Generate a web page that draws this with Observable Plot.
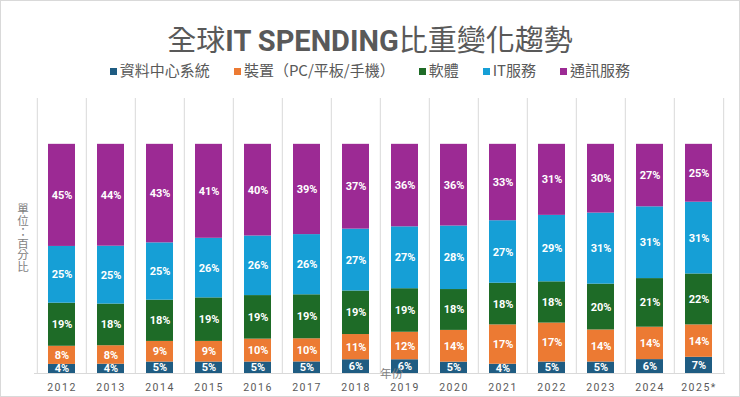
<!DOCTYPE html>
<html>
<head>
<meta charset="utf-8">
<script src="https://cdn.jsdelivr.net/npm/d3@7"></script>
<script src="https://cdn.jsdelivr.net/npm/@observablehq/plot@0.6"></script>
<style>
  html, body { margin: 0; padding: 0; background: #fff; }
  #wrap { position: relative; width: 740px; height: 397px; box-sizing: border-box; border: 1px solid #d9d9d9; background: #fff; overflow: hidden; font-family: "Noto Sans CJK TC", sans-serif; }
  #title { position: absolute; left: 0; right: 0; top: 17px; text-align: center; font-size: 29px; line-height: 40px; color: #595959; white-space: nowrap; }
  #title b { font-family: Roboto, "Liberation Sans", sans-serif; font-weight: 700; }
  #legend { position: absolute; left: 0; right: 0; top: 59px; display: flex; justify-content: center; gap: 24px; font-size: 15px; line-height: 20px; color: #595959; white-space: nowrap; }
  #legend .sw { display: inline-block; width: 7px; height: 7px; margin-right: 3px; vertical-align: 1px; }
  #ylab { position: absolute; left: 16px; top: 202px; writing-mode: vertical-rl; text-orientation: upright; font-size: 11.5px; line-height: 12px; color: #7f7f7f; }
  #xlab { position: absolute; left: 379px; top: 366px; font-size: 11.5px; line-height: 12px; color: #808080; }
  #chart { position: absolute; left: 0; top: 87px; }
  #chart g[aria-label="x-axis tick label"] text { letter-spacing: 1.5px; }
</style>
</head>
<body>
<div id="wrap">
  <div id="title">全球<b>IT SPENDING</b>比重變化趨勢</div>
  <div id="legend"></div>
  <div id="chart"></div>
  <div id="ylab">單位：百分比</div>
  <div id="xlab">年份</div>
</div>
<script>
const years = ["2012","2013","2014","2015","2016","2017","2018","2019","2020","2021","2022","2023","2024","2025*"];
const series = ["資料中心系統","裝置（PC/平板/手機）","軟體","IT服務","通訊服務"];
const colors = ["#1f5c82","#ec7a33","#1e6b27","#169fd6","#9c2a94"];

const dataCenter = [4,4,5,5,5,5,6,6,5,4,5,5,6,7];
const devices    = [8,8,9,9,10,10,11,12,14,17,17,14,14,14];
const software   = [19,18,18,19,19,19,19,19,18,18,18,20,21,22];
const itServices = [25,25,25,26,26,26,27,27,28,27,29,31,31,31];
const commServices = [45,44,43,41,40,39,37,36,36,33,31,30,27,25];

const values = [dataCenter, devices, software, itServices, commServices];
const data = [];
series.forEach((s, si) => years.forEach((y, i) => data.push({year: y, series: s, value: values[si][i]})));

// legend
const legend = document.getElementById("legend");
series.forEach((s, i) => {
  const item = document.createElement("span");
  const sw = document.createElement("span");
  sw.className = "sw";
  sw.style.background = colors[i];
  item.appendChild(sw);
  item.appendChild(document.createTextNode(s));
  legend.appendChild(item);
});

const W = 738, H = 308, ML = 33, MR = 14, MT = 10, MB = 23;
const step = (W - ML - MR) / years.length;

const chart = Plot.plot({
  width: W, height: H,
  marginLeft: ML, marginRight: MR, marginTop: MT, marginBottom: MB,
  style: {fontFamily: "Roboto, sans-serif", background: "transparent"},
  x: {domain: years, paddingInner: 0.45, paddingOuter: 0.225, label: null},
  y: {domain: [0, 1.2], axis: null},
  color: {domain: series, range: colors},
  marks: [
    Plot.ruleX(years, {x: d => d, dx: -step / 2, stroke: "#d9d9d9", strokeWidth: 1}),
    Plot.ruleX([years[years.length - 1]], {x: d => d, dx: step / 2, stroke: "#d9d9d9", strokeWidth: 1}),
    Plot.barY(data, {x: "year", y: "value", fill: "series", offset: "normalize"}),
    Plot.ruleY([0], {stroke: "#d9d9d9"}),
    Plot.text(data, Plot.stackY({x: "year", y: "value", z: "series", offset: "normalize",
      text: d => d.value + "%", fill: "white", fontWeight: "bold", fontSize: 11})),
    Plot.axisX({tickSize: 0, tickPadding: 10, fontSize: 10.5, color: "#595959", label: null})
  ]
});
document.getElementById("chart").appendChild(chart);
</script>
</body>
</html>
